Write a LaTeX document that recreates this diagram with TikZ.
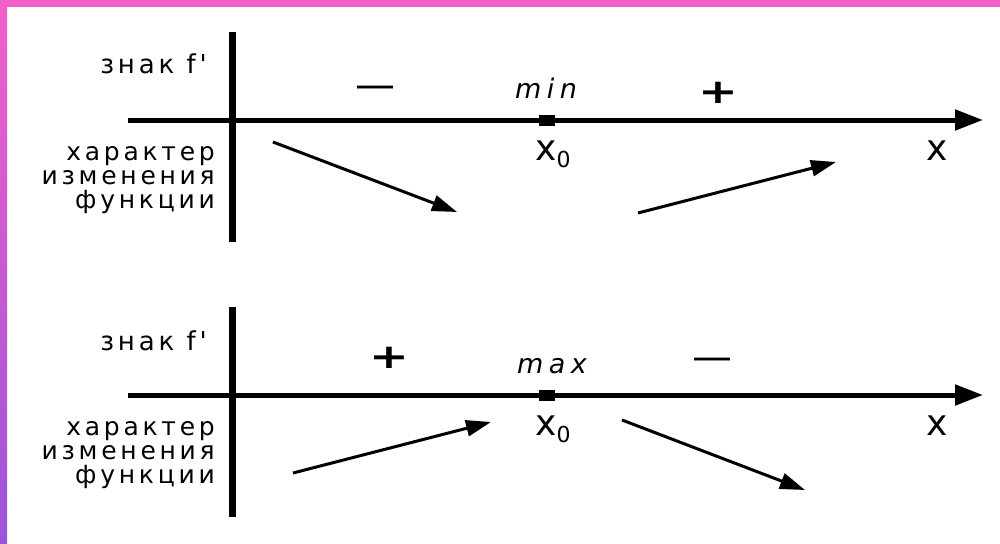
\documentclass[tikz,border=0pt]{standalone}
\usepackage{fontspec}
\setmainfont{DejaVu Sans}
\newfontfamily\lblfont{DejaVu Sans}[LetterSpace=15]
\newfontfamily\mmfont{DejaVu Sans Oblique}[LetterSpace=20]
\usetikzlibrary{arrows.meta}
\definecolor{pinkc}{RGB}{243,95,200}
\definecolor{purplec}{RGB}{155,85,218}
\tikzset{
  axisline/.style={line width=5pt, -{Triangle[length=28pt,width=20pt]}},
  vline/.style={line width=7pt},
  trend/.style={line width=3pt, -{Triangle[length=25pt,width=16pt]}},
  marker/.style={fill=black, minimum width=16pt, minimum height=11pt, inner sep=0pt},
  lbl/.style={font=\lblfont\fontsize{26}{24}\selectfont, inner sep=0pt},
  lblm/.style={font=\lblfont\fontsize{25}{24}\selectfont, inner sep=0pt, align=right},
  mm/.style={font=\mmfont\fontsize{27}{27}\selectfont, inner sep=0pt},
  xl/.style={font=\fontsize{36}{36}\selectfont, inner sep=0pt},
  signp/.style={font=\bfseries\fontsize{34}{34}\selectfont, inner sep=0pt},
  signm/.style={font=\fontsize{40}{40}\selectfont, inner sep=0pt}
}
\begin{document}
\begin{tikzpicture}[x=1pt,y=-1pt]
\useasboundingbox (0,0) rectangle (1000,543);
\fill[white] (0,0) rectangle (1000,543);
\fill[pinkc] (0,0) rectangle (1000,7);
\shade[top color=pinkc, bottom color=purplec] (0,0) rectangle (7,543);

% ---------- top diagram (minimum) ----------
\coordinate (v1t) at (232,32);
\coordinate (v1b) at (232,242);
\coordinate (h1s) at (128,120);
\coordinate (h1e) at (983,120);
\draw[vline] (v1t) -- (v1b);
\draw[axisline] (h1s) -- (h1e);
\node[marker] (m1) at (547,120) {};
\node[lbl, anchor=base east] (sign1) at (207,74) {знак f'};
\node[lblm, anchor=north east] (char1) at (215,146) {характер\\изменения\\функции};
\node[signm, anchor=base] (minus1) at (375,98) {—};
\node[signp] (plus1) at (718,93) {\scalebox{1.4}[1]{+}};
\node[mm, anchor=base] (min1) at (546,98) {min};
\node[xl, anchor=base west] (x01) at (535,160) {x\raisebox{-7pt}{\fontsize{22}{22}\selectfont 0}};
\node[xl, anchor=base] (x1) at (937,160) {x};
\coordinate (d1s) at (273,142);
\coordinate (d1e) at (457,212);
\coordinate (u1s) at (638,213);
\coordinate (u1e) at (836,162);
\draw[trend] (d1s) -- (d1e);
\draw[trend] (u1s) -- (u1e);

% ---------- bottom diagram (maximum) ----------
\coordinate (v2t) at (232,307);
\coordinate (v2b) at (232,517);
\coordinate (h2s) at (128,395);
\coordinate (h2e) at (983,395);
\draw[vline] (v2t) -- (v2b);
\draw[axisline] (h2s) -- (h2e);
\node[marker] (m2) at (547,395) {};
\node[lbl, anchor=base east] (sign2) at (207,350) {знак f'};
\node[lblm, anchor=north east] (char2) at (215,421) {характер\\изменения\\функции};
\node[signp] (plus2) at (389,358) {\scalebox{1.4}[1]{+}};
\node[signm, anchor=base] (minus2) at (712,370) {—};
\node[mm, anchor=base] (max2) at (552,373) {max};
\node[xl, anchor=base west] (x02) at (535,435) {x\raisebox{-7pt}{\fontsize{22}{22}\selectfont 0}};
\node[xl, anchor=base] (x2) at (937,435) {x};
\coordinate (u2s) at (293,473);
\coordinate (u2e) at (491,422);
\coordinate (d2s) at (622,420);
\coordinate (d2e) at (805,490);
\draw[trend] (u2s) -- (u2e);
\draw[trend] (d2s) -- (d2e);
\end{tikzpicture}
\end{document}
